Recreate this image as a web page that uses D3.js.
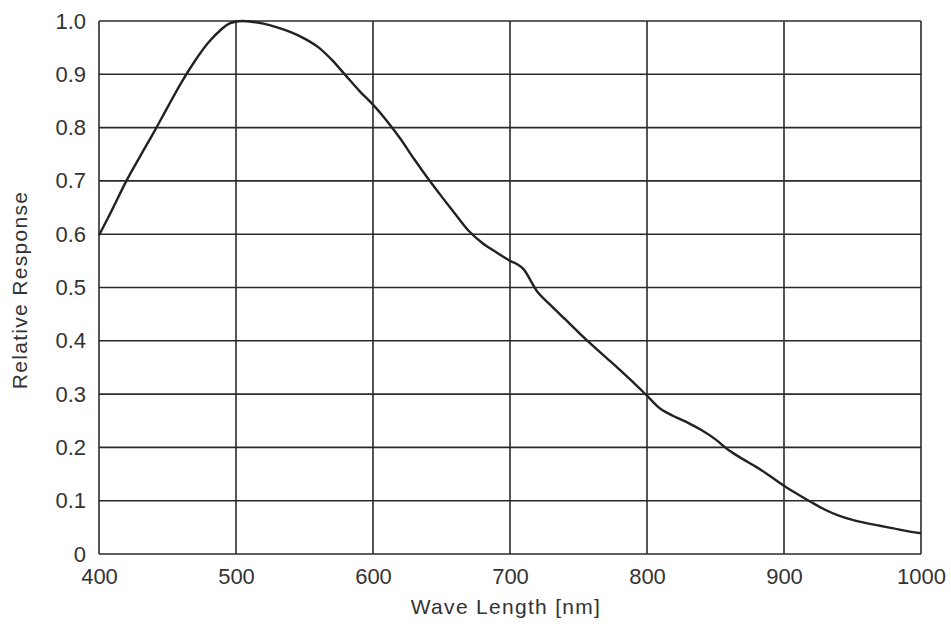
<!doctype html>
<html lang="en">
<head>
<meta charset="utf-8">
<title>Relative Response</title>
<script src="https://cdn.jsdelivr.net/npm/d3@7"></script>
<style>
  body { margin: 0; background: #fff; }
  text { font-family: "Liberation Sans", Arial, sans-serif; fill: #333; }
</style>
</head>
<body>
<script>
// wavelength [nm] and relative response
var wavelength = [400, 410, 420, 430, 440, 450, 460, 470, 480, 490, 495,
                  500, 505, 510, 520, 530, 540, 550, 560, 570, 580, 590,
                  600, 610, 620, 630, 640, 650, 660, 670, 680, 690,
                  700, 705, 710, 720, 730, 740, 750, 760, 770, 780,
                  790, 800, 810, 820, 830, 840, 850, 860, 870, 880,
                  890, 900, 910, 920, 930, 940, 950, 960, 970, 980,
                  990, 1000];
var response = [0.598, 0.648, 0.700, 0.746, 0.791, 0.838, 0.884, 0.925, 0.960, 0.986, 0.995,
                0.999, 1.000, 0.999, 0.995, 0.988, 0.979, 0.967, 0.951, 0.927, 0.898, 0.869,
                0.843, 0.813, 0.779, 0.741, 0.705, 0.671, 0.638, 0.606, 0.583, 0.566,
                0.550, 0.544, 0.534, 0.492, 0.466, 0.441, 0.416, 0.392, 0.369, 0.346,
                0.322, 0.297, 0.272, 0.258, 0.246, 0.232, 0.215, 0.194, 0.178, 0.163,
                0.146, 0.128, 0.112, 0.097, 0.083, 0.072, 0.064, 0.058, 0.053, 0.048,
                0.043, 0.039];
var xTicks = [400, 500, 600, 700, 800, 900, 1000];
var yTicks = [0, 0.1, 0.2, 0.3, 0.4, 0.5, 0.6, 0.7, 0.8, 0.9, 1.0];
var yTickLabels = ["0", "0.1", "0.2", "0.3", "0.4", "0.5", "0.6", "0.7", "0.8", "0.9", "1.0"];

var svgW = 951, svgH = 634;
var margin = {top: 21, right: 30, bottom: 80, left: 99};

var xScale = d3.scaleLinear()
               .domain([400, 1000])
               .range([margin.left, svgW - margin.right]);
var yScale = d3.scaleLinear()
               .domain([0, 1])
               .range([svgH - margin.bottom, margin.top]);

var svg = d3.select("body")
            .append("svg")
            .attr("width", svgW)
            .attr("height", svgH);

// grid
svg.append("g")
   .selectAll("line")
   .data(xTicks)
   .enter()
   .append("line")
   .attr("x1", d => xScale(d))
   .attr("x2", d => xScale(d))
   .attr("y1", yScale(0))
   .attr("y2", yScale(1))
   .attr("stroke", "#2b2b2b")
   .attr("stroke-width", 1.6);

svg.append("g")
   .selectAll("line")
   .data(yTicks)
   .enter()
   .append("line")
   .attr("x1", xScale(400))
   .attr("x2", xScale(1000))
   .attr("y1", d => yScale(d))
   .attr("y2", d => yScale(d))
   .attr("stroke", "#2b2b2b")
   .attr("stroke-width", 1.6);

// tick labels
var xAxis = d3.axisBottom(xScale).tickValues(xTicks).tickSize(0).tickPadding(14)
              .tickFormat(d3.format("d"));
var gx = svg.append("g")
   .attr("transform", "translate(0," + yScale(0) + ")")
   .call(xAxis);
gx.select(".domain").remove();
gx.selectAll("text").attr("font-size", 22).attr("font-family", null).attr("fill", "#333");

var yAxis = d3.axisLeft(yScale).tickValues(yTicks).tickSize(0).tickPadding(13)
              .tickFormat((d, i) => yTickLabels[i]);
var gy = svg.append("g")
   .attr("transform", "translate(" + xScale(400) + ",0)")
   .call(yAxis);
gy.select(".domain").remove();
gy.selectAll("text").attr("font-size", 22).attr("font-family", null).attr("fill", "#333");

// curve
var line = d3.line()
             .x((d, i) => xScale(wavelength[i]))
             .y(d => yScale(d))
             .curve(d3.curveCatmullRom.alpha(0.5));

svg.append("path")
   .datum(response)
   .attr("d", line)
   .attr("fill", "none")
   .attr("stroke", "#222")
   .attr("stroke-width", 2.4);

// titles
svg.append("text")
   .attr("x", 506)
   .attr("y", 614)
   .attr("text-anchor", "middle")
   .attr("font-size", 21)
   .attr("letter-spacing", 1.3)
   .text("Wave Length [nm]");

svg.append("text")
   .attr("transform", "translate(27,290) rotate(-90)")
   .attr("text-anchor", "middle")
   .attr("font-size", 21)
   .attr("letter-spacing", 1.3)
   .text("Relative Response");
</script>
</body>
</html>
